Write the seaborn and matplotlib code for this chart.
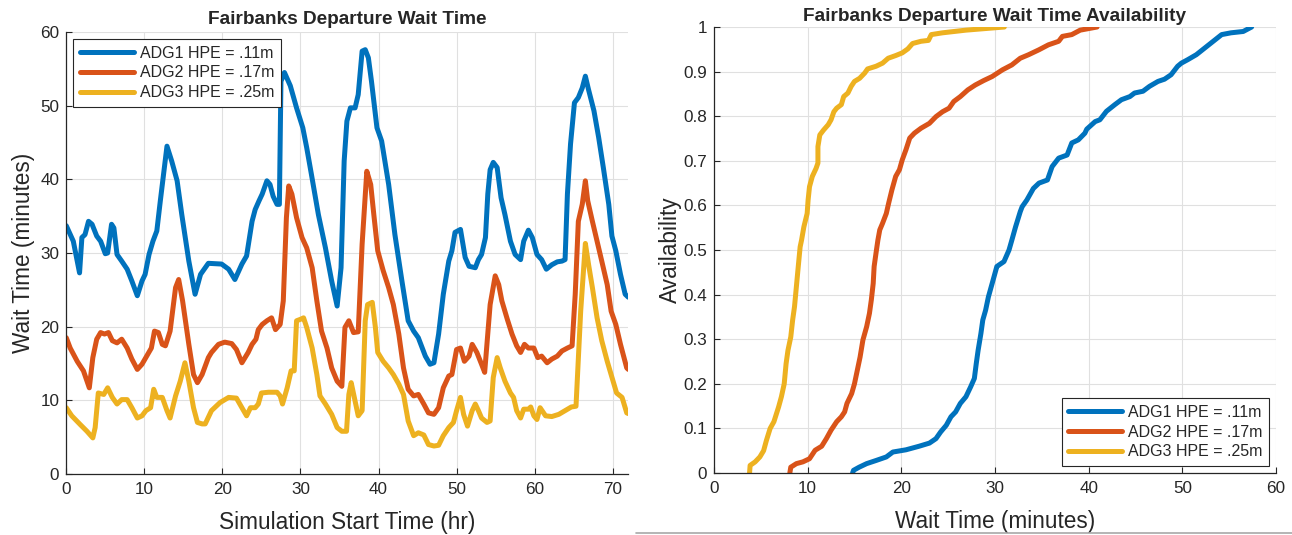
import numpy as np
import pandas as pd
import matplotlib
matplotlib.use("Agg")
import matplotlib.pyplot as plt
from matplotlib.lines import Line2D
import seaborn as sns

# ---------------- data ----------------
series_names = ["ADG1 HPE = .11m", "ADG2 HPE = .17m", "ADG3 HPE = .25m"]
colors = ["#0072BD", "#D95319", "#EDB120"]

adg1_hr = [0.0, 0.9, 1.7, 2.0, 2.4, 2.85, 3.3, 3.9, 4.4, 5.0, 5.3, 5.8, 6.1, 6.5, 7.1, 7.8, 8.4, 9.1,
           9.7, 10.1, 10.6, 11.1, 11.6, 12.05, 12.9, 13.5, 14.2, 14.8, 15.7, 16.5, 17.2, 18.2, 19.9,
           20.8, 21.6, 22.5, 23.1, 23.8, 24.2, 24.7, 25.1, 25.7, 26.1, 26.5, 27.0, 27.3, 27.5, 27.95,
           28.7, 29.5, 30.3, 30.8, 31.4, 32.3, 33.2, 34.0, 34.7, 35.2, 35.6, 35.95, 36.4, 37.0, 37.4,
           37.9, 38.3, 38.7, 39.1, 39.8, 40.4, 41.3, 42.1, 43.0, 43.8, 44.5, 45.1, 46.0, 46.6, 47.1,
           47.7, 48.3, 49.0, 49.4, 49.8, 50.5, 51.1, 51.6, 52.4, 52.8, 53.2, 53.7, 54.0, 54.3, 54.7,
           55.2, 55.7, 56.2, 56.9, 57.5, 58.2, 58.6, 59.2, 59.7, 60.3, 60.9, 61.5, 62.2, 62.9, 63.5,
           63.9, 64.2, 64.6, 65.1, 65.6, 66.1, 66.5, 66.9, 67.6, 68.2, 68.8, 69.5, 69.9, 70.4, 71.0,
           71.6, 72.0]
adg1_wait = [33.7, 31.6, 27.3, 32.1, 32.5, 34.3, 33.9, 32.3, 31.6, 29.9, 30.0, 33.9, 33.4, 29.8, 28.9,
             27.8, 26.2, 24.2, 26.2, 27.1, 29.8, 31.6, 33.0, 37.1, 44.5, 42.5, 39.8, 35.2, 28.9, 24.4,
             27.1, 28.6, 28.5, 27.8, 26.4, 28.5, 29.6, 34.3, 35.9, 37.1, 38.0, 39.8, 39.3, 37.7, 36.6,
             36.6, 53.3, 54.5, 52.7, 49.7, 47.0, 44.3, 40.7, 35.2, 30.7, 26.2, 22.8, 28.0, 42.5, 47.9,
             49.7, 49.7, 51.5, 57.4, 57.6, 56.5, 53.3, 47.0, 45.2, 39.3, 32.5, 26.2, 20.8, 19.4, 18.5,
             16.0, 14.9, 15.1, 19.0, 24.4, 28.9, 30.3, 32.8, 33.2, 29.4, 28.2, 28.0, 29.1, 29.8, 32.1,
             38.0, 41.3, 42.3, 41.6, 37.5, 35.2, 31.6, 29.8, 29.1, 31.6, 33.1, 32.1, 29.8, 29.1, 27.8,
             28.4, 28.8, 28.9, 29.1, 38.0, 44.8, 50.4, 51.1, 52.4, 54.0, 52.2, 49.3, 45.7, 41.6, 36.6,
             32.3, 30.3, 27.1, 24.4, 24.0]

adg2_hr = [0.0, 0.5, 1.4, 2.2, 2.95, 3.4, 3.9, 4.4, 4.9, 5.4, 5.9, 6.5, 7.1, 7.8, 8.4, 9.1, 9.7, 10.3,
           10.9, 11.3, 11.8, 12.3, 12.7, 13.3, 14.0, 14.4, 14.9, 15.7, 16.3, 16.8, 17.4, 18.2, 18.6,
           19.5, 20.3, 21.2, 21.8, 22.5, 22.9, 23.3, 23.8, 24.3, 24.6, 25.1, 25.7, 26.3, 26.8, 27.4,
           27.8, 28.2, 28.5, 28.9, 29.5, 30.2, 30.8, 31.5, 32.1, 32.7, 33.4, 34.0, 34.7, 35.3, 35.7,
           36.2, 36.8, 37.4, 37.9, 38.5, 39.0, 39.4, 39.9, 40.6, 41.3, 41.9, 42.6, 43.2, 43.8, 44.5,
           45.1, 45.8, 46.4, 47.1, 47.7, 48.3, 49.0, 49.4, 50.0, 50.5, 51.0, 51.6, 52.0, 52.6, 53.2,
           53.6, 54.3, 54.95, 55.4, 55.8, 56.5, 57.1, 57.7, 58.2, 58.7, 59.2, 59.9, 60.4, 60.9, 61.6,
           62.2, 62.9, 63.5, 64.2, 64.8, 65.2, 65.6, 66.1, 66.5, 66.8, 67.4, 68.0, 68.6, 69.3, 69.8,
           70.4, 71.0, 71.8, 72.0]
adg2_wait = [18.5, 17.1, 15.3, 14.0, 11.7, 15.8, 18.3, 19.2, 19.0, 19.2, 18.1, 17.8, 18.3, 17.1, 15.6,
             14.2, 14.9, 16.0, 17.1, 19.4, 19.2, 17.6, 17.4, 19.4, 25.3, 26.4, 23.5, 17.6, 13.5, 12.4,
             13.5, 15.8, 16.5, 17.6, 17.9, 17.7, 16.9, 15.1, 15.8, 16.5, 17.6, 18.3, 19.6, 20.3, 20.8,
             21.2, 19.6, 20.3, 23.5, 34.8, 39.1, 38.0, 34.8, 32.1, 30.7, 28.0, 23.5, 19.4, 17.1, 14.4,
             12.6, 11.9, 19.9, 20.8, 19.2, 19.3, 31.2, 41.1, 39.3, 35.2, 30.3, 27.6, 25.3, 23.0, 19.0,
             14.4, 11.5, 10.6, 10.8, 9.5, 8.3, 8.1, 9.0, 11.7, 13.3, 13.5, 16.9, 17.1, 15.3, 16.0, 17.6,
             16.5, 14.9, 13.8, 23.0, 26.9, 25.7, 23.5, 21.0, 19.0, 17.4, 16.5, 17.6, 17.1, 17.1, 15.8,
             16.0, 15.1, 15.6, 16.0, 16.7, 17.1, 17.4, 24.4, 34.3, 36.6, 39.8, 37.1, 34.3, 31.6, 28.9,
             25.7, 22.1, 20.3, 17.6, 14.4, 14.2]

adg3_hr = [0.0, 0.7, 1.8, 2.65, 3.4, 3.7, 4.1, 4.8, 5.3, 5.9, 6.5, 7.1, 7.8, 8.4, 9.1, 9.7, 10.2, 10.8,
           11.2, 11.6, 12.3, 12.9, 13.3, 14.0, 14.6, 15.2, 15.7, 16.3, 16.8, 17.4, 17.8, 18.6, 19.7,
           20.8, 21.8, 22.5, 23.1, 23.6, 24.2, 24.6, 25.0, 25.9, 27.0, 27.4, 27.7, 28.3, 28.8, 29.2,
           29.5, 30.0, 30.4, 30.8, 31.5, 32.1, 32.5, 33.2, 34.0, 34.7, 35.3, 35.9, 36.2, 36.5, 37.0,
           37.4, 37.9, 38.3, 38.6, 39.2, 39.6, 39.9, 40.6, 41.3, 41.9, 42.6, 43.2, 43.8, 44.5, 45.1,
           45.8, 46.4, 47.1, 47.7, 48.3, 49.0, 49.6, 50.0, 50.5, 50.9, 51.4, 52.0, 52.4, 52.8, 53.2,
           53.9, 54.3, 54.7, 55.2, 55.6, 56.2, 56.9, 57.3, 57.7, 58.2, 58.6, 59.2, 59.5, 59.9, 60.3,
           60.7, 61.4, 62.2, 63.1, 63.9, 64.7, 65.3, 65.9, 66.5, 66.9, 67.4, 68.0, 68.6, 69.3, 69.8,
           70.5, 71.2, 71.8, 72.0]
adg3_wait = [9.0, 7.9, 6.7, 5.8, 4.9, 6.3, 11.0, 10.8, 11.7, 10.4, 9.5, 10.1, 10.1, 9.0, 7.6, 7.9, 8.6,
             9.0, 11.5, 10.4, 10.4, 8.6, 7.6, 10.6, 12.6, 15.1, 12.6, 9.0, 7.0, 6.8, 6.8, 8.6, 9.7, 10.4,
             10.3, 9.0, 7.9, 9.0, 9.0, 9.5, 11.0, 11.1, 11.1, 10.6, 9.5, 11.7, 14.0, 14.0, 20.8, 21.0,
             21.2, 19.9, 17.1, 13.5, 10.6, 9.5, 8.1, 6.3, 5.8, 5.8, 10.8, 12.4, 9.9, 7.9, 8.6, 20.8,
             23.0, 23.3, 19.9, 16.5, 15.3, 14.4, 13.5, 12.2, 10.8, 7.2, 5.2, 5.6, 5.3, 4.0, 3.8, 3.9,
             5.2, 6.3, 7.0, 8.6, 10.4, 8.1, 6.5, 8.6, 9.5, 8.6, 7.6, 7.0, 7.2, 13.1, 15.8, 14.4, 12.6,
             11.0, 10.4, 8.6, 7.6, 8.8, 8.8, 9.1, 7.9, 7.4, 9.0, 7.9, 7.8, 8.1, 8.6, 9.1, 9.2, 22.1,
             31.3, 28.5, 25.3, 21.2, 18.1, 15.3, 13.5, 11.0, 10.4, 8.3, 8.2]

# availability curves (wait time in minutes vs availability)
adg1_cdf_wait = [14.8, 14.9, 15.5, 16.3, 17.3, 18.4, 19.1, 20.5, 21.9, 23.0, 23.7, 24.2, 24.8, 25.3,
                 25.8, 26.3, 26.9, 27.4, 27.8, 28.0, 28.2, 28.5, 28.7, 29.0, 29.3, 29.7, 30.2, 30.4,
                 30.96, 31.5, 31.8, 32.2, 32.7, 32.9, 33.4, 34.1, 34.7, 35.6, 36.1, 36.8, 37.7, 38.2,
                 38.9, 39.6, 39.8, 40.7, 41.2, 41.9, 42.8, 43.5, 44.4, 44.9, 45.8, 46.5, 47.4, 48.1,
                 48.8, 49.5, 49.9, 50.6, 51.5, 52.4, 53.3, 54.2, 55.2, 56.5, 57.4]
adg1_cdf_avail = [0.0, 0.006, 0.013, 0.021, 0.028, 0.036, 0.047, 0.052, 0.06, 0.067, 0.077, 0.092,
                  0.107, 0.126, 0.137, 0.156, 0.171, 0.193, 0.212, 0.245, 0.275, 0.313, 0.343, 0.365,
                  0.395, 0.425, 0.463, 0.466, 0.474, 0.5, 0.522, 0.552, 0.586, 0.597, 0.612, 0.638,
                  0.65, 0.657, 0.687, 0.706, 0.713, 0.74, 0.747, 0.762, 0.771, 0.788, 0.792, 0.811,
                  0.826, 0.837, 0.844, 0.852, 0.856, 0.867, 0.878, 0.883, 0.893, 0.912, 0.919, 0.927,
                  0.938, 0.953, 0.968, 0.983, 0.987, 0.99, 1.0]

adg2_cdf_wait = [8.1, 8.2, 8.8, 9.5, 10.2, 10.8, 11.5, 12.0, 12.5, 13.1, 13.6, 13.95, 14.2, 14.7, 15.0,
                 15.3, 15.6, 15.9, 16.3, 16.6, 16.8, 17.0, 17.1, 17.3, 17.5, 17.7, 18.0, 18.4, 18.65,
                 19.0, 19.4, 19.8, 20.1, 20.5, 20.9, 21.4, 22.1, 23.0, 23.7, 24.4, 25.1, 25.6, 26.3,
                 27.1, 27.9, 28.8, 29.7, 30.8, 31.8, 32.7, 33.6, 34.7, 35.7, 36.8, 37.2, 38.2, 39.1,
                 40.9]
adg2_cdf_avail = [0.0, 0.013, 0.021, 0.025, 0.032, 0.051, 0.06, 0.077, 0.096, 0.115, 0.126, 0.137,
                  0.156, 0.178, 0.2, 0.23, 0.26, 0.298, 0.328, 0.358, 0.388, 0.425, 0.463, 0.493,
                  0.522, 0.545, 0.56, 0.582, 0.605, 0.635, 0.665, 0.68, 0.702, 0.725, 0.751, 0.762,
                  0.773, 0.784, 0.799, 0.81, 0.818, 0.833, 0.844, 0.859, 0.87, 0.88, 0.889, 0.904,
                  0.915, 0.93, 0.938, 0.949, 0.96, 0.968, 0.979, 0.983, 0.993, 1.0]

adg3_cdf_wait = [3.8, 3.86, 4.4, 4.9, 5.3, 5.6, 6.0, 6.4, 6.9, 7.2, 7.5, 7.7, 7.9, 8.2, 8.4, 8.6, 8.8,
                 9.0, 9.2, 9.35, 9.6, 9.95, 10.05, 10.2, 10.5, 10.9, 11.1, 11.1, 11.3, 11.7, 12.2,
                 12.5, 12.8, 13.1, 13.6, 13.85, 14.3, 14.65, 15.0, 15.55, 16.1, 16.4, 17.3, 18.0,
                 18.6, 19.4, 20.1, 20.7, 21.2, 22.1, 22.9, 23.2, 24.4, 26.9, 31.0]
adg3_cdf_avail = [0.0, 0.017, 0.025, 0.036, 0.05, 0.073, 0.1, 0.115, 0.148, 0.171, 0.2, 0.245, 0.275,
                  0.305, 0.343, 0.373, 0.418, 0.463, 0.507, 0.522, 0.552, 0.582, 0.612, 0.642, 0.665,
                  0.683, 0.695, 0.732, 0.758, 0.769, 0.781, 0.792, 0.81, 0.818, 0.826, 0.844, 0.852,
                  0.867, 0.878, 0.885, 0.897, 0.906, 0.912, 0.919, 0.93, 0.936, 0.942, 0.951, 0.963,
                  0.968, 0.97, 0.983, 0.987, 0.993, 1.0]

x_ticks_left = [0, 10, 20, 30, 40, 50, 60, 70]
y_ticks_left = [0, 10, 20, 30, 40, 50, 60]
x_ticks_right = [0, 10, 20, 30, 40, 50, 60]
y_ticks_right = [0, 0.1, 0.2, 0.3, 0.4, 0.5, 0.6, 0.7, 0.8, 0.9, 1]
y_ticklabels_right = ["0", "0.1", "0.2", "0.3", "0.4", "0.5", "0.6", "0.7", "0.8", "0.9", "1"]

# ---------------- build tables ----------------
ts = pd.concat([
    pd.DataFrame({"hr": adg1_hr, "wait": adg1_wait, "series": series_names[0]}),
    pd.DataFrame({"hr": adg2_hr, "wait": adg2_wait, "series": series_names[1]}),
    pd.DataFrame({"hr": adg3_hr, "wait": adg3_wait, "series": series_names[2]}),
], ignore_index=True)
cdf = pd.concat([
    pd.DataFrame({"wait": adg1_cdf_wait, "avail": adg1_cdf_avail, "series": series_names[0]}),
    pd.DataFrame({"wait": adg2_cdf_wait, "avail": adg2_cdf_avail, "series": series_names[1]}),
    pd.DataFrame({"wait": adg3_cdf_wait, "avail": adg3_cdf_avail, "series": series_names[2]}),
], ignore_index=True)

# ---------------- style ----------------
sns.set_theme(style="whitegrid")
plt.rcParams["font.family"] = ["Liberation Sans", "DejaVu Sans"]
plt.rcParams.update({
    "grid.color": "#e0e0e0",
    "grid.linewidth": 0.8,
    "axes.edgecolor": "#262626",
    "axes.linewidth": 0.9,
    "xtick.direction": "in",
    "ytick.direction": "in",
    "xtick.color": "#262626",
    "ytick.color": "#262626",
    "xtick.major.size": 4,
    "ytick.major.size": 4,
    "xtick.major.width": 0.8,
    "ytick.major.width": 0.8,
    "xtick.bottom": True,
    "ytick.left": True,
})
palette = dict(zip(series_names, colors))

fig = plt.figure(figsize=(12.92, 5.35), dpi=100)
ax1 = fig.add_axes([0.0513, 0.1140, 0.4350, 0.8262])
ax2 = fig.add_axes([0.5526, 0.1159, 0.4350, 0.8336])

lw = 3.6
sns.lineplot(data=ts, x="hr", y="wait", hue="series", palette=palette, hue_order=series_names,
             linewidth=lw, ax=ax1, estimator=None, sort=False)
sns.lineplot(data=cdf, x="wait", y="avail", hue="series", palette=palette, hue_order=series_names,
             linewidth=lw, ax=ax2, estimator=None, sort=False)

tick_fs = 12.3
label_fs = 16.3
title_fs = 13.7

for ax in (ax1, ax2):
    sns.despine(ax=ax, top=True, right=True)
    ax.tick_params(labelsize=tick_fs, labelcolor="#262626")
    ax.tick_params(axis="x", pad=6)
    ax.tick_params(axis="y", pad=5)
    ax.grid(True)
    for s in ("left", "bottom"):
        ax.spines[s].set_color("#262626")

ax1.set_xlim(0, 72)
ax1.set_ylim(0, 60)
ax1.set_xticks(x_ticks_left)
ax1.set_yticks(y_ticks_left)
ax1.set_xlabel("Simulation Start Time (hr)", fontsize=label_fs, color="#262626", labelpad=10)
ax1.set_ylabel("Wait Time (minutes)", fontsize=label_fs, color="#262626", labelpad=4)
ax1.set_title("Fairbanks Departure Wait Time", fontsize=title_fs, fontweight="bold", pad=6)

ax2.set_xlim(0, 60)
ax2.set_ylim(0, 1)
ax2.set_xticks(x_ticks_right)
ax2.set_yticks(y_ticks_right)
ax2.set_yticklabels(y_ticklabels_right)
ax2.set_xlabel("Wait Time (minutes)", fontsize=label_fs, color="#262626", labelpad=10)
ax2.set_ylabel("Availability", fontsize=label_fs, color="#262626", labelpad=1)
ax2.set_title("Fairbanks Departure Wait Time Availability", fontsize=title_fs, fontweight="bold", pad=4)

for ax, loc in ((ax1, "upper left"), (ax2, "lower right")):
    handles, labels = ax.get_legend_handles_labels()
    leg = ax.legend(handles, labels, loc=loc, fontsize=11.5, frameon=True, fancybox=False,
                    framealpha=1, edgecolor="#262626", handlelength=3.4, handletextpad=0.35,
                    borderpad=0.4, labelspacing=0.3, borderaxespad=0.45)
    leg.get_frame().set_linewidth(0.8)
    for line in leg.get_lines():
        line.set_linewidth(lw)

# thin grey border line at the bottom of the right panel (as in the reference image)
fig.add_artist(Line2D([636 / 1292, 1.0], [2.5 / 535, 2.5 / 535], transform=fig.transFigure,
                      color="#a8a8a8", linewidth=1.2))

fig.savefig("out.png", dpi=100)
